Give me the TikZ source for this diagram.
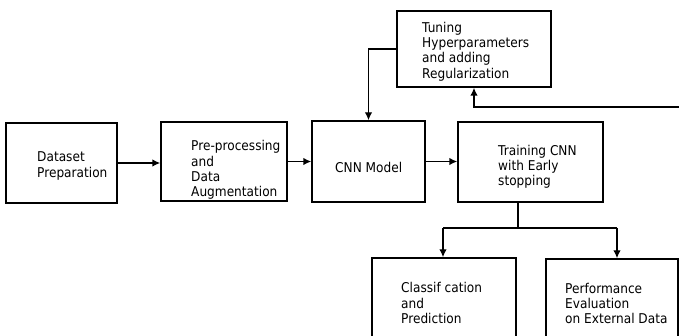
\documentclass[tikz,border=0pt]{standalone}
\usepackage{fontspec}
\setmainfont{DejaVu Sans}[FakeStretch=0.9]
\usetikzlibrary{arrows.meta}
\begin{document}
\begin{tikzpicture}[x=1pt,y=1pt,
  box/.style={draw=black,line width=1.4pt,rectangle,inner sep=0pt},
  txt/.style={anchor=west,align=left,inner sep=0pt,font=\fontsize{13.5}{15.2}\selectfont},
  conn/.style={draw=black,line width=1.4pt,-{Latex[length=8pt,width=7.5pt]}},
  plain/.style={draw=black,line width=1.4pt}]
\clip (0,0) rectangle (679,336);
\fill[white] (0,0) rectangle (679,336);
% boxes
\node[box,minimum width=111pt,minimum height=80pt] (dataset) at (61.5,173) {};
\node[box,minimum width=126pt,minimum height=79pt] (prep) at (224,174.5) {};
\node[box,minimum width=113pt,minimum height=81pt] (cnn) at (368.5,174.5) {};
\node[box,minimum width=145pt,minimum height=80pt] (train) at (530.5,174) {};
\node[box,minimum width=154pt,minimum height=76pt] (tune) at (474,287) {};
\node[box,minimum width=144pt,minimum height=88pt] (class) at (444,34) {};
\node[box,minimum width=132pt,minimum height=87pt] (perf) at (612,33.5) {};
% texts
\node[txt] (datasetT) at (37,170) {Dataset\\Preparation};
\node[txt] (prepT) at (191,166) {Pre-processing\\and\\Data\\Augmentation};
\node[txt] (cnnT) at (335,169) {CNN Model};
\node[txt] (trainT) at (498,169.5) {Training CNN\\with Early\\stopping};
\node[txt] (tuneT) at (422,284.5) {Tuning\\Hyperparameters\\and adding\\Regularization};
\node[txt] (classT) at (401,33) {Classif cation\\and\\Prediction};
\node[txt] (perfT) at (565,32.5) {Performance\\Evaluation\\on External Data};
% connectors
\draw[conn] (dataset.east) -- (dataset.east -| prep.west);
\draw[conn] (prep.east) -- (prep.east -| cnn.west);
\draw[conn] (cnn.east) -- (cnn.east -| train.west);
\draw[conn] (tune.west) -| (cnn.north);
\coordinate (fb) at (680,229);
\draw[conn] (fb) -| (tune.south);
\coordinate (tdown) at (518,134);
\coordinate (junc) at (518,108);
\coordinate (jl) at (443,108);
\coordinate (jr) at (617,108);
\draw[plain] (tdown) -- (junc);
\draw[plain] (jl) -- (jr);
\draw[conn] (jl) -- (jl |- class.north);
\draw[conn] (jr) -- (jr |- perf.north);
\end{tikzpicture}
\end{document}
